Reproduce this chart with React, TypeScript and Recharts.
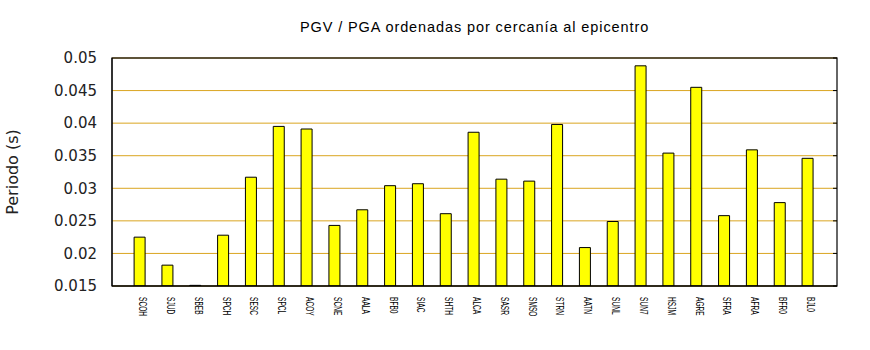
import React from 'react';
import { BarChart, Bar, XAxis, YAxis, CartesianGrid } from 'recharts';

const stations = ['SCOH','SJUD','SBEB','SPCH','SESC','SPCL','ACOY','SCNE','AALA','BFB0','SIAC','SHTH','ALCA','SASR','SMSO','STRN','AATN','SUNL','SUN7','HSJM','AGRE','SFRA','AFRA','BFR0','BJL0'];
const periods = [0.0225,0.0182,0.0151,0.0228,0.0317,0.0395,0.0391,0.0243,0.0267,0.0304,0.0307,0.0261,0.0386,0.0314,0.0311,0.0398,0.0209,0.0249,0.0488,0.0354,0.0455,0.0258,0.0359,0.0278,0.0346];
const yTicks = [0.015,0.02,0.025,0.03,0.035,0.04,0.045,0.05];
const yDomain = [0.015, 0.05];
const title = 'PGV / PGA ordenadas por cercanía al epicentro';
const yLabel = 'Periodo (s)';

const data = stations.map((s, i) => ({ name: s, value: periods[i] }));

const W = 870;
const H = 350;
const M = { top: 58, right: 33, bottom: 0, left: 0 };
const Y_AXIS_W = 112;
const X_AXIS_H = 64;
const plot = {
  x: M.left + Y_AXIS_W,
  y: M.top,
  w: W - M.left - Y_AXIS_W - M.right,
  h: H - M.top - M.bottom - X_AXIS_H,
};

const XTick = (props: any) => {
  const { x, y, payload } = props;
  return (
    <text
      transform={`translate(${x - 1},${y}) rotate(90) scale(0.66,1)`}
      textAnchor="start"
      style={{ fontFamily: 'Liberation Sans, Arial, sans-serif', fontSize: 10 }}
      fill="#000"
    >
      {payload.value}
    </text>
  );
};

const YLabel = (props: any) => {
  const vb = props.viewBox || { x: 0, y: plot.y, width: Y_AXIS_W, height: plot.h };
  const cy = vb.y + vb.height / 2;
  return (
    <text
      x={12}
      y={cy}
      transform={`rotate(-90, 12, ${cy})`}
      textAnchor="middle"
      dominantBaseline="central"
      style={{ fontFamily: 'DejaVu Sans, Verdana, sans-serif', fontSize: 16 }}
      fill="#222"
    >
      {yLabel}
    </text>
  );
};

export default function App() {
  const right = plot.x + plot.w;
  return (
    <div style={{ position: 'absolute', left: 0, top: 0, width: W, height: H, background: '#fff' }}>
      <BarChart width={W} height={H} data={data} margin={M} barCategoryGap={0}>
        <CartesianGrid horizontal={true} vertical={false} stroke="#DAA520" strokeWidth={1} />
        <XAxis
          dataKey="name"
          type="category"
          interval={0}
          height={X_AXIS_H}
          padding={{ left: 14.1, right: 15.1 }}
          axisLine={{ stroke: '#000', strokeWidth: 1 }}
          tickLine={false}
          tickSize={0}
          tickMargin={11}
          tick={<XTick />}
        />
        <YAxis
          type="number"
          domain={yDomain}
          ticks={yTicks}
          interval={0}
          allowDataOverflow
          width={Y_AXIS_W}
          axisLine={{ stroke: '#000', strokeWidth: 1 }}
          tickLine={false}
          tickSize={0}
          tickMargin={15}
          tickFormatter={(v: number) => String(Number(v.toFixed(3)))}
          tick={{ style: { fontFamily: 'DejaVu Sans, Verdana, sans-serif', fontSize: 15 }, fill: '#222' }}
          label={<YLabel />}
        />
        <Bar
          dataKey="value"
          fill="#FFFF00"
          stroke="#000"
          strokeWidth={1}
          barSize={11}
          isAnimationActive={false}
        />
      </BarChart>
      <svg width={W} height={H} style={{ position: 'absolute', left: 0, top: 0, pointerEvents: 'none' }}>
        <text
          x={plot.x + plot.w / 2}
          y={32}
          textAnchor="middle"
          style={{ fontFamily: 'Liberation Sans, Arial, sans-serif', fontSize: 14.5, letterSpacing: 0.9 }}
          fill="#000"
        >
          {title}
        </text>
        <rect x={plot.x} y={plot.y} width={plot.w} height={plot.h} fill="none" stroke="#000" strokeWidth={1.2} />
        {yTicks.map((t) => {
          const ty = plot.y + (plot.h * (yDomain[1] - t)) / (yDomain[1] - yDomain[0]);
          return <line key={t} x1={right - 4} x2={right} y1={ty} y2={ty} stroke="#000" strokeWidth={1} />;
        })}
      </svg>
    </div>
  );
}
